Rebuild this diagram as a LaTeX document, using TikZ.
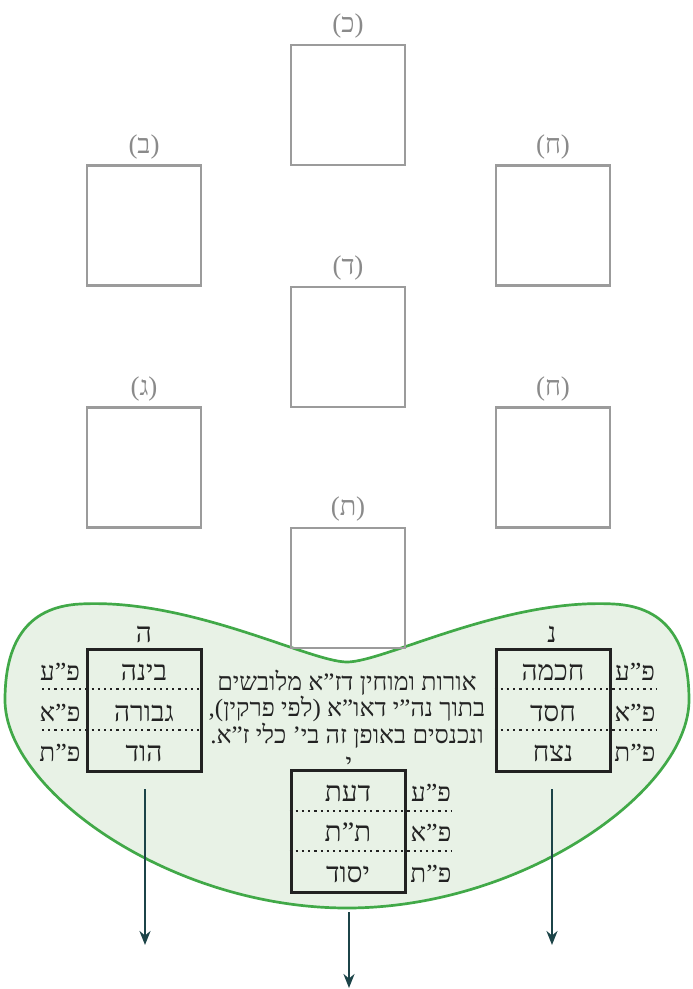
\documentclass[tikz,border=0pt]{standalone}
\usepackage{fontspec}
\setmainfont{Liberation Serif}[Script=Hebrew]
\TeXXeTstate=1
\usetikzlibrary{arrows.meta}
\definecolor{boxgray}{HTML}{9B9B9B}
\definecolor{labgray}{HTML}{8A8A8A}
\definecolor{blobfill}{HTML}{E8F2E6}
\definecolor{blobline}{HTML}{41A948}
\definecolor{arrowc}{HTML}{1C4448}
\definecolor{ink}{HTML}{222222}
\tikzset{
  graybox/.style={draw=boxgray, line width=2.8pt, minimum width=114pt, minimum height=120pt, inner sep=0pt},
  graylab/.style={text=labgray, font=\fontsize{27}{27}\selectfont, inner sep=0pt},
  tabbox/.style={draw=ink, line width=3pt, minimum width=114pt, minimum height=122pt, inner sep=0pt},
  celltext/.style={text=ink, font=\fontsize{28}{28}\selectfont, inner sep=0pt, anchor=base},
  rowlab/.style={text=ink, font=\fontsize{26}{26}\selectfont, inner sep=0pt, anchor=base},
  toplab/.style={text=ink, font=\fontsize{28}{28}\selectfont, inner sep=0pt, anchor=base},
  dots/.style={draw=ink, line width=2.3pt, dash pattern=on 2.2pt off 4pt, line cap=butt},
  flow/.style={draw=arrowc, line width=2.5pt, -{Stealth[length=14pt,width=11pt]}},
  blob/.style={draw=blobline, fill=blobfill, line width=2.7pt}
}
\begin{document}
\begin{tikzpicture}[x=1pt,y=-1pt]
\useasboundingbox[fill=white] (0,0) rectangle (693,989);

% green region
\path[blob] (347,662)
  .. controls (310,662) and (190,598) .. (80,604)
  .. controls (25,607) and (5,645) .. (5,700)
  .. controls (5,790) and (170,908) .. (347,908)
  .. controls (524,908) and (689,790) .. (689,700)
  .. controls (689,645) and (669,607) .. (614,604)
  .. controls (504,598) and (384,662) .. (347,662) -- cycle;

% gray boxes
\node[graybox, label={[graylab, yshift=5pt]above:(כ)}] (k)  at (348,105) {};
\node[graybox, label={[graylab, yshift=5pt]above:(ב)}] (b)  at (144,225.5) {};
\node[graybox, label={[graylab, yshift=5pt]above:(ח)}] (h1) at (553,225.5) {};
\node[graybox, label={[graylab, yshift=5pt]above:(ד)}] (d)  at (348,347) {};
\node[graybox, label={[graylab, yshift=5pt]above:(ג)}] (g)  at (144,467.5) {};
\node[graybox, label={[graylab, yshift=5pt]above:(ח)}] (h2) at (553,467.5) {};
\node[graybox, label={[graylab, yshift=5pt]above:(ת)}] (t)  at (348,588) {};

% left table
\node[tabbox] (L) at (144,710) {};
\node[toplab] (Lh) at (144,642) {ה};
\draw[dots] (42,689) -- (L.east |- 0,689);
\draw[dots] (42,730) -- (L.east |- 0,730);
\node[celltext] (L1) at (144,680) {בינה};
\node[celltext] (L2) at (144,721) {גבורה};
\node[celltext] (L3) at (144,761) {הוד};
\node[rowlab] (Lr1) at (60,680) {פ”ע};
\node[rowlab] (Lr2) at (60,721) {פ”א};
\node[rowlab] (Lr3) at (60,761) {פ”ת};

% right table
\node[tabbox] (R) at (553,710) {};
\node[toplab] (Rn) at (552,642) {נ};
\draw[dots] (R.west |- 0,689) -- (656,689);
\draw[dots] (R.west |- 0,730) -- (656,730);
\node[celltext] (R1) at (553,680) {חכמה};
\node[celltext] (R2) at (553,721) {חסד};
\node[celltext] (R3) at (553,761) {נצח};
\node[rowlab] (Rr1) at (635,680) {פ”ע};
\node[rowlab] (Rr2) at (635,721) {פ”א};
\node[rowlab] (Rr3) at (635,761) {פ”ת};

% center table
\node[tabbox] (C) at (348,831.5) {};
\draw[dots] (C.west |- 0,811) -- (451,811);
\draw[dots] (C.west |- 0,851) -- (451,851);
\node[celltext] (C1) at (348,801) {דעת};
\node[celltext] (C2) at (348,841) {ת”ת};
\node[celltext] (C3) at (348,882) {יסוד};
\node[rowlab] (Cr1) at (431,801) {פ”ע};
\node[rowlab] (Cr2) at (431,841) {פ”א};
\node[rowlab] (Cr3) at (431,882) {פ”ת};

% central text
\node[text=ink, font=\fontsize{25}{26.5}\selectfont, align=center, inner sep=0pt, anchor=base] (txt) at (347,743)
  {\beginR אורות ומוחין דז”א מלובשים\endR\\
   \beginR בתוך נה”י דאו”א (לפי פרקין),\endR\\
   \beginR ונכנסים באופן זה בי’ כלי ז”א.\endR};
\node[text=ink, font=\fontsize{25}{25}\selectfont, inner sep=0pt, anchor=base] (yod) at (349,771) {י};

% arrows
\coordinate (a1s) at (145,789); \coordinate (a1e) at (145,945);
\coordinate (a2s) at (552,789); \coordinate (a2e) at (552,945);
\coordinate (a3s) at (349,912); \coordinate (a3e) at (349,988);
\draw[flow] (a1s) -- (a1e);
\draw[flow] (a2s) -- (a2e);
\draw[flow] (a3s) -- (a3e);
\end{tikzpicture}
\end{document}
